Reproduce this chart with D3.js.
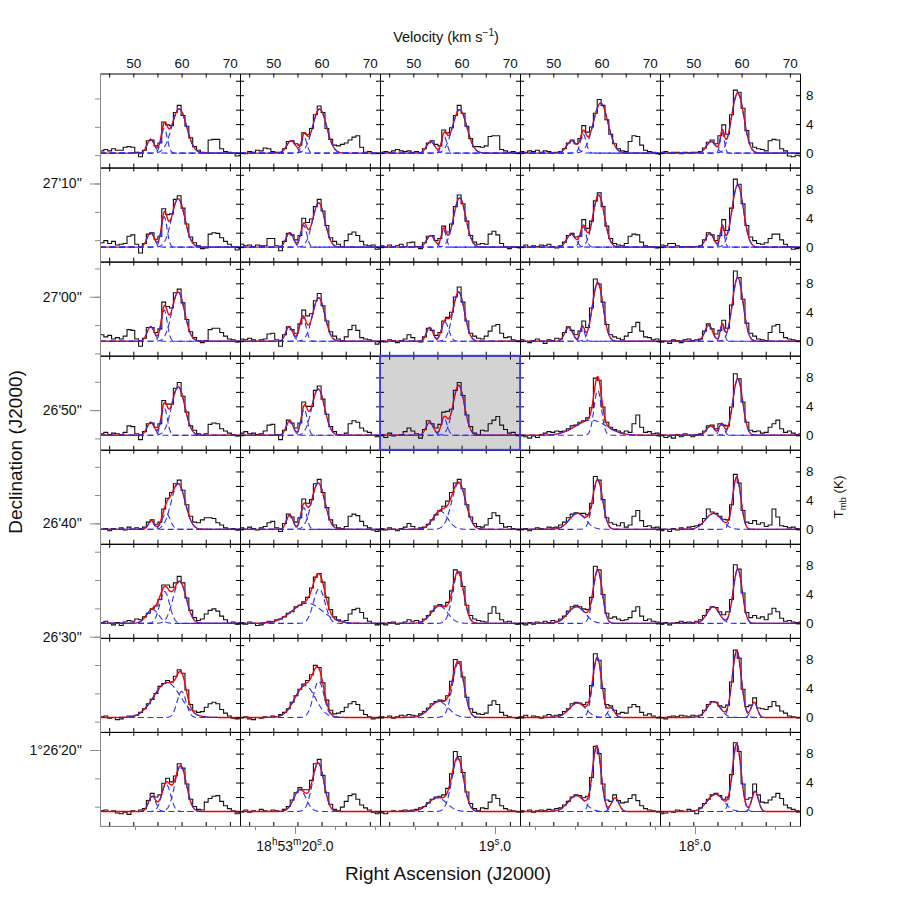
<!DOCTYPE html>
<html>
<head>
<meta charset="utf-8">
<title>Spectra grid</title>
<script src="https://cdn.jsdelivr.net/npm/d3@7/dist/d3.min.js"></script>
<style>
	body { margin: 0; background: #fff; }
	svg text { font-family: "Liberation Sans", Arial, Helvetica, sans-serif; fill: #111; }
</style>
</head>
<body>
<svg width="900" height="900" viewBox="0 0 900 900"></svg>
<script>
/* DATA */
// channel centres (km/s), 0.8 km/s wide
var channelV = [43.5, 44.3, 45.1, 45.9, 46.7, 47.5, 48.3, 49.1, 49.9, 50.7, 51.5, 52.3, 53.1, 53.9, 54.7, 55.5, 56.3, 57.1, 57.9, 58.7,
	59.5, 60.3, 61.1, 61.9, 62.7, 63.5, 64.3, 65.1, 65.9, 66.7, 67.5, 68.3, 69.1, 69.9, 70.7, 71.5, 72.3];
var chanWidth = 0.8;

var velTicks = [45, 50, 55, 60, 65, 70];
var velLabels = [50, 60, 70];
var tmbTicks = [0, 2, 4, 6, 8, 10];
var tmbLabels = [0, 4, 8];

var decSeconds = [70, 60, 50, 40, 30, 20];
var decLabels = ["27'10''", "27'00''", "26'50''", "26'40''", "26'30''", "1°26'20''"];
var raSeconds = [20, 19, 18];
var raLabels = [
	[["18", "h"], ["53", "m"], ["20", "s"], [".0", ""]],
	[["19", "s"], [".0", ""]],
	[["18", "s"], [".0", ""]]
];
var highlightPanel = [3, 2];

// T_mb (K) per channel, one array per panel, rows top to bottom
var spectra = [
	[
		[0.3,0.5,0.3,0.6,0.4,0.4,0.8,0.9,0.8,0.1,-0.5,0.4,1.7,1.8,1.0,1.4,4.3,3.9,3.8,5.6,6.6,5.2,3.7,2.1,0.9,0.4,0.1,0.0,1.8,1.9,1.9,0.6,0.2,0.1,0.0,-0.4,-0.3],
		[0.0,-0.1,0.2,0.1,0.4,0.3,0.7,0.6,0.2,0.1,0.1,0.6,1.6,1.7,1.3,1.1,2.8,2.6,3.4,5.3,6.5,5.6,3.4,1.9,1.1,1.0,1.2,1.4,1.8,2.2,2.4,0.8,0.1,0.2,-0.1,0.0,0.0],
		[0.1,0.2,0.1,0.3,0.5,0.3,0.2,0.3,0.1,0.2,0.0,0.6,1.4,1.7,1.2,1.0,3.2,2.8,3.5,5.2,6.6,5.5,3.7,2.0,0.9,0.9,0.8,1.0,2.3,2.4,2.4,0.5,0.3,0.1,0.2,0.0,0.1],
		[0.2,0.1,0.3,0.2,0.4,0.1,0.3,0.2,0.0,0.1,0.2,0.6,1.4,1.8,1.3,2.0,3.8,2.9,3.6,5.5,7.4,6.6,4.6,2.6,1.3,0.6,0.3,0.2,1.6,2.4,2.3,1.1,0.4,0.2,0.1,-0.1,-0.2],
		[0.1,0.2,0.0,0.1,0.1,-0.1,0.1,0.0,0.1,0.1,0.2,0.7,1.5,1.8,1.3,2.4,3.9,2.6,5.3,8.7,8.4,6.2,3.1,1.4,0.8,0.6,0.5,0.3,1.7,1.9,1.8,0.6,0.3,-0.4,-0.5,-0.3,-0.4]
	],
	[
		[0.6,0.9,0.5,0.8,0.3,0.4,0.5,1.5,1.7,0.4,-0.8,0.5,1.8,2.0,1.1,1.5,5.3,4.5,4.6,6.6,7.1,5.4,3.2,1.4,0.6,0.2,-0.2,-0.1,1.8,2.0,1.9,1.3,0.8,0.4,0.1,-0.4,-0.2],
		[0.4,0.2,0.3,0.1,0.3,0.2,0.2,1.2,1.2,0.2,-0.5,0.8,1.9,1.7,1.0,1.6,4.0,3.4,3.9,5.6,6.6,5.0,3.0,1.3,0.8,0.4,0.1,0.9,1.8,2.1,1.6,0.8,0.3,0.2,0.3,-0.3,-0.1],
		[0.2,0.0,0.3,0.1,0.2,0.4,0.1,0.6,0.7,0.1,-0.2,0.6,1.5,1.6,0.9,1.2,2.9,2.1,3.2,5.6,7.2,6.0,3.6,1.6,0.7,0.4,0.5,0.4,1.8,2.2,1.7,0.5,0.1,-0.2,0.1,0.0,-0.1],
		[0.1,0.3,0.0,0.2,0.1,0.3,0.2,0.4,0.1,-0.1,0.2,0.7,1.6,1.9,1.4,1.5,3.8,2.6,3.6,6.4,7.5,5.6,2.9,1.2,0.5,0.3,0.2,0.5,1.5,1.8,1.7,0.7,0.2,0.1,0.0,-0.1,0.0],
		[0.3,0.2,0.5,0.5,0.2,0.1,0.0,0.1,0.0,0.1,0.2,1.0,2.0,1.7,0.9,1.6,3.8,2.3,5.4,9.4,8.7,6.0,3.0,1.4,0.9,0.5,0.4,0.6,1.2,1.8,1.8,1.0,0.4,0.1,-0.3,-0.2,0.0]
	],
	[
		[0.9,0.6,0.8,0.3,0.5,0.3,0.7,1.6,1.5,0.3,-0.7,0.4,1.9,1.9,1.2,1.7,5.4,4.8,4.6,6.7,7.2,5.3,3.0,1.3,0.5,0.1,-0.2,0.1,1.6,1.8,1.8,1.2,0.7,0.3,0.2,-0.1,0.0],
		[0.3,0.2,0.4,0.2,0.0,0.2,0.3,1.0,1.1,0.2,-0.7,0.9,2.0,1.6,1.1,2.4,4.3,3.5,3.8,5.6,6.6,4.9,2.8,1.3,0.7,0.3,0.1,0.6,1.6,2.2,1.5,0.5,0.3,0.2,0.0,-0.4,-0.1],
		[0.0,-0.1,0.2,0.1,-0.2,0.1,0.3,0.9,0.5,0.0,-0.1,0.6,1.8,1.5,0.8,1.2,2.8,3.3,4.0,6.1,7.5,5.4,2.8,1.1,0.7,0.4,0.3,0.7,1.4,2.1,2.3,1.1,0.5,0.6,0.2,0.1,0.0],
		[0.2,0.0,-0.2,0.1,0.3,0.0,-0.3,0.2,0.1,0.4,0.3,1.2,2.0,1.5,0.9,1.4,2.8,1.9,4.6,8.6,7.9,5.4,2.3,0.9,0.6,0.4,0.2,0.7,1.2,2.0,2.6,1.4,0.6,0.5,0.2,0.3,-0.1],
		[-0.1,0.0,-0.3,0.2,0.1,-0.2,0.2,0.3,0.1,0.2,0.3,1.4,2.4,1.7,1.0,1.5,2.9,1.8,5.0,9.7,8.8,5.8,2.5,1.1,0.7,0.3,0.2,0.1,1.2,2.1,2.3,1.2,0.5,0.3,0.2,0.1,0.0]
	],
	[
		[0.2,0.4,0.1,0.3,0.2,0.1,0.4,1.3,1.2,0.2,-0.6,0.5,1.6,1.7,1.1,1.6,4.8,4.3,4.3,6.5,7.3,5.4,3.2,1.3,0.7,0.2,0.0,0.2,1.5,1.7,1.6,0.9,0.6,0.3,0.1,-0.1,0.0],
		[0.3,0.5,0.2,0.3,0.1,0.2,0.6,1.4,1.5,0.1,-0.6,0.7,2.1,1.7,1.0,1.7,4.6,4.0,4.0,6.2,6.8,5.0,2.9,1.2,0.5,0.1,0.0,0.3,1.6,2.0,1.8,1.0,0.6,0.4,0.0,-0.2,0.0],
		[0.1,-0.3,0.3,-0.1,0.0,0.1,0.5,1.0,0.6,0.2,-0.4,0.8,2.0,1.6,1.0,1.5,3.2,3.3,3.6,6.2,7.3,5.5,2.8,1.2,0.3,0.1,0.7,0.6,1.6,2.1,2.6,1.4,0.8,0.3,0.4,0.1,0.0],
		[0.0,-0.2,-0.4,-0.1,-0.3,0.1,0.3,0.5,0.4,0.6,0.5,0.6,0.9,1.3,1.4,1.8,2.0,2.4,3.8,7.9,7.6,3.9,1.8,1.1,0.8,0.6,0.3,0.6,0.4,1.6,2.8,1.1,0.4,0.5,0.2,0.3,-0.1],
		[0.0,-0.3,-0.2,-0.4,0.1,-0.2,0.2,0.0,-0.2,0.1,0.2,0.6,1.3,1.4,0.9,1.6,1.4,1.3,3.9,8.5,7.8,4.6,1.8,0.7,0.5,0.6,0.3,0.4,1.1,1.6,2.1,0.9,0.4,0.6,0.3,0.1,0.2]
	],
	[
		[0.0,0.1,-0.2,0.1,0.0,0.2,-0.1,0.3,0.0,0.2,0.1,0.3,1.0,1.3,0.7,1.0,2.8,4.3,5.1,6.3,6.8,5.4,3.4,1.8,1.0,0.9,1.3,1.6,1.6,1.5,0.9,0.6,0.2,0.0,0.1,-0.1,0.0],
		[0.2,0.0,0.3,0.1,-0.1,0.2,0.4,0.9,1.1,0.2,-0.3,0.8,2.1,1.7,1.0,1.6,4.2,3.6,4.1,6.3,6.9,5.1,3.0,1.3,0.6,0.2,0.1,0.4,1.8,2.1,1.9,1.1,0.5,0.2,-0.1,-0.3,0.0],
		[0.1,-0.1,0.2,0.0,-0.2,0.1,0.3,0.8,0.4,0.0,0.2,0.3,0.7,1.3,2.0,2.6,3.2,3.9,5.1,6.4,6.9,5.6,3.4,1.7,0.8,0.4,0.3,0.6,1.5,2.3,1.9,0.8,0.3,0.4,0.1,0.0,-0.1],
		[0.0,0.1,-0.2,0.0,0.2,0.1,0.0,0.3,0.2,0.3,0.6,1.0,1.6,2.1,2.3,2.2,2.2,2.0,3.6,7.3,6.8,4.1,1.6,0.9,0.7,0.5,0.9,0.3,0.6,1.8,2.6,1.2,0.4,0.5,0.2,0.3,0.1],
		[-0.2,0.0,-0.3,0.1,-0.1,0.2,0.0,0.3,0.4,0.5,0.7,1.5,2.8,2.4,2.2,1.8,1.4,1.3,3.4,7.6,6.4,2.6,1.0,0.8,1.2,0.7,0.9,0.4,0.6,2.8,1.7,0.5,0.4,0.2,0.3,0.1,0.0]
	],
	[
		[0.1,0.3,0.0,-0.2,0.1,-0.3,0.2,0.4,0.3,0.6,0.5,0.9,1.4,2.0,2.4,3.3,5.3,5.3,5.0,5.6,6.5,5.6,3.5,1.8,0.8,0.4,0.6,1.3,1.8,2.0,1.7,1.0,0.5,0.0,0.2,-0.1,0.1],
		[0.1,-0.1,0.2,0.0,-0.3,-0.2,0.1,0.3,0.2,0.5,0.6,0.9,1.4,1.6,2.3,2.5,3.0,3.6,4.9,6.4,6.9,5.7,3.6,1.9,0.9,0.5,0.3,0.4,1.3,1.9,2.1,1.5,0.7,0.3,0.0,-0.2,0.0],
		[0.0,-0.2,0.1,0.2,-0.1,0.0,0.2,0.5,0.3,0.4,0.2,0.6,1.1,1.7,2.4,2.6,2.4,2.9,4.5,7.4,7.1,5.1,2.5,1.1,0.6,0.4,0.3,0.2,1.4,2.3,1.4,0.5,0.2,0.3,0.0,-0.1,0.0],
		[0.0,-0.2,0.1,-0.1,0.2,0.0,0.3,0.1,0.4,0.3,0.6,1.0,1.7,2.3,2.5,2.3,2.0,1.9,3.6,7.9,7.4,4.0,1.4,0.7,0.9,0.6,0.4,0.5,0.8,1.7,2.3,1.0,0.4,0.6,0.3,0.2,0.0],
		[-0.1,0.1,-0.2,0.0,0.1,0.3,0.1,0.2,0.1,0.3,0.5,1.1,1.9,2.3,2.2,1.6,1.2,1.6,3.3,8.1,7.5,4.2,1.5,0.8,1.1,0.7,0.9,0.5,1.3,2.1,1.6,0.7,0.3,0.4,0.2,0.1,0.2]
	],
	[
		[0.1,0.2,-0.1,0.0,-0.3,-0.2,0.0,0.2,0.1,0.3,0.7,1.2,1.9,2.5,3.3,4.3,4.7,5.1,4.9,5.7,6.6,6.1,3.8,1.8,0.9,0.7,0.8,1.4,1.9,2.1,1.9,1.1,0.6,0.2,-0.1,-0.2,0.0],
		[0.0,0.1,-0.2,-0.3,0.0,-0.1,0.1,0.0,0.2,0.1,0.4,0.7,1.2,2.1,3.0,3.9,4.6,5.1,5.9,7.2,6.9,4.8,2.4,1.0,0.5,0.6,0.8,1.4,1.9,2.2,1.8,1.0,0.4,0.1,-0.2,0.0,0.1],
		[0.1,0.0,0.2,-0.1,0.1,0.3,0.2,0.4,0.3,0.2,0.5,0.8,1.3,1.9,2.2,2.4,2.3,3.0,5.0,8.0,7.7,5.6,2.8,1.2,0.7,0.5,0.4,0.6,1.7,2.3,1.8,0.7,0.3,0.1,0.0,-0.1,0.1],
		[0.1,0.3,0.0,0.2,0.1,-0.1,0.2,0.4,0.2,0.3,0.4,0.8,1.2,1.9,2.1,2.0,1.8,2.1,4.4,8.8,7.9,4.0,1.8,1.6,1.0,0.5,0.7,0.6,1.4,1.8,1.5,0.7,0.3,0.5,0.2,0.0,0.1],
		[0.0,-0.2,0.1,0.2,0.1,0.3,0.2,0.1,0.3,0.2,0.3,1.0,1.8,2.2,2.1,1.6,1.4,1.7,4.9,9.3,8.2,3.9,1.5,1.7,2.7,1.3,1.2,1.1,1.5,2.2,1.6,0.9,0.6,0.2,0.1,0.0,0.0]
	],
	[
		[0.1,0.2,0.0,0.1,-0.2,-0.3,-0.1,-0.4,0.1,0.0,0.2,0.4,1.5,2.5,2.0,2.3,3.9,4.6,4.1,4.9,6.6,6.0,3.8,1.7,0.7,0.3,0.2,1.3,1.8,2.1,2.2,1.4,0.8,0.4,0.1,-0.3,-0.2],
		[0.0,0.2,-0.1,0.1,0.0,0.3,0.1,0.0,0.2,0.1,0.0,0.3,0.7,1.6,2.6,3.3,3.0,3.0,4.3,6.6,7.2,5.0,2.6,1.0,0.3,0.1,0.6,1.4,2.2,2.4,1.7,0.9,0.5,0.2,-0.1,-0.3,0.0],
		[-0.2,-0.3,0.0,0.1,0.0,0.1,0.2,0.1,0.2,0.3,0.5,0.7,1.2,1.7,2.0,2.1,2.3,3.2,5.2,8.3,7.6,5.4,2.7,1.1,0.4,0.1,0.5,0.4,1.3,2.3,1.8,0.8,0.4,0.2,0.1,0.0,0.0],
		[0.1,0.0,0.2,-0.1,0.1,0.2,0.1,0.3,0.2,0.4,0.5,0.9,1.4,2.0,2.3,2.2,1.9,2.1,4.7,9.0,8.0,3.8,1.6,1.4,2.3,1.5,1.2,1.3,1.8,2.3,1.5,0.8,0.4,0.2,0.1,0.0,0.0],
		[-0.3,-0.2,0.0,-0.1,0.2,0.1,0.0,0.3,0.1,-0.3,0.5,1.1,1.7,2.3,2.5,2.2,1.7,2.0,5.1,9.5,8.3,3.8,1.7,1.9,3.8,2.3,1.3,1.2,1.6,2.0,2.5,1.8,0.9,0.5,0.3,0.1,0.0]
	]
];

// fitted gaussian components per panel: [peak (K), centre (km/s), FWHM (km/s)]
var gaussFits = [
	[
		[[6.1,59.5,3.6],[3.4,56.4,1.5],[1.9,53.6,1.8]],
		[[6.1,59.6,3.4],[2.2,56.4,1.3],[1.7,53.7,2.2]],
		[[6.0,59.6,3.5],[2.3,56.4,1.3],[1.6,53.6,2.0]],
		[[6.9,59.8,3.6],[2.6,56.2,1.4],[1.7,53.8,2.4]],
		[[8.3,59.2,3.0],[2.8,56.0,1.0],[1.6,53.7,2.3]]
	],
	[
		[[6.7,59.3,3.2],[4.2,56.4,1.4],[2.0,53.6,1.8]],
		[[6.1,59.4,3.0],[3.0,56.3,1.5],[2.0,53.4,1.8]],
		[[6.8,59.6,3.0],[2.4,56.3,1.2],[1.6,53.6,2.0]],
		[[7.2,59.4,2.8],[2.8,56.2,1.4],[1.8,53.7,2.2]],
		[[8.6,59.2,2.8],[2.8,56.0,1.0],[1.9,53.4,2.0]]
	],
	[
		[[6.8,59.3,3.1],[4.3,56.4,1.5],[2.0,53.6,1.8]],
		[[6.0,59.4,3.0],[3.3,56.1,1.6],[2.0,53.3,1.7]],
		[[6.8,59.4,2.8],[2.6,56.6,1.8],[1.9,53.4,1.6]],
		[[8.1,59.2,2.6],[2.0,56.0,1.1],[1.9,53.2,1.9]],
		[[8.8,59.2,2.6],[2.3,56.0,1.0],[2.2,53.2,1.9]]
	],
	[
		[[6.7,59.3,3.2],[3.8,56.4,1.5],[1.8,53.6,1.8]],
		[[6.4,59.3,3.1],[3.6,56.4,1.5],[2.0,53.4,1.7]],
		[[6.9,59.4,2.8],[2.3,56.4,1.5],[1.8,53.4,1.8]],
		[[6.2,59.2,1.8],[2.1,57.8,7.5]],
		[[7.8,59.2,2.4],[1.6,55.9,1.2],[1.3,53.6,2.0]]
	],
	[
		[[6.3,59.3,3.4],[2.2,56.8,2.0],[1.2,53.7,1.4]],
		[[6.4,59.3,3.2],[3.0,56.3,1.5],[2.0,53.4,1.6]],
		[[6.4,59.4,3.4],[2.5,55.6,3.6]],
		[[6.8,59.2,2.4],[2.2,55.0,4.0]],
		[[7.2,59.0,2.0],[2.2,54.2,4.0]]
	],
	[
		[[5.8,59.6,3.2],[4.4,56.5,2.4],[1.9,54.0,3.0]],
		[[4.8,59.5,2.8],[2.8,57.0,7.5]],
		[[7.0,59.3,2.7],[2.4,55.4,4.0]],
		[[7.3,59.2,2.2],[2.3,54.8,4.2]],
		[[7.5,59.2,2.2],[2.3,54.1,3.0]]
	],
	[
		[[3.6,60.0,2.2],[4.8,57.0,6.5]],
		[[5.0,59.4,2.6],[4.4,56.6,5.0]],
		[[7.5,59.3,2.8],[2.2,55.3,4.5]],
		[[8.2,59.1,2.2],[2.0,55.0,4.0],[1.3,62.0,1.6]],
		[[9.2,59.0,2.2],[2.2,54.2,3.2],[2.1,62.6,1.5]]
	],
	[
		[[6.3,59.8,2.8],[3.8,56.8,2.2],[2.1,53.9,1.8]],
		[[6.7,59.3,2.8],[3.0,55.5,3.0]],
		[[7.3,59.2,2.9],[1.9,55.0,4.5]],
		[[9.0,59.0,2.1],[2.2,54.8,4.0],[1.9,62.8,1.8]],
		[[9.3,59.0,2.1],[2.4,54.6,4.0],[2.8,62.8,1.6]]
	]
];

/* SVG */
var svg = d3.select("svg");
var gridLeft = 100, gridTop = 73.5, panelW = 140, panelH = 94.06;
var nRows = spectra.length, nCols = spectra[0].length;

/* SCALES */
var x = d3.scaleLinear().domain([43.1, 72.1]).range([0, panelW]);
var y = d3.scaleLinear().domain([-2, 11]).range([panelH, 0]);
// declination in arcsec past 1°26', RA in seconds past 18h53m
var decY = d3.scaleLinear().domain([79.706, 13.294]).range([gridTop, gridTop + nRows * panelH]);
var raX = d3.scaleLinear().domain([20.975, 17.475]).range([gridLeft, gridLeft + nCols * panelW]);

var fineV = d3.range(43.1, 72.15, 0.1);
function gauss(g, v) {
	return g[0] * Math.exp(-4 * Math.LN2 * Math.pow((v - g[1]) / g[2], 2));
}
function stepPoints(vals) {
	var pts = [];
	vals.forEach(function (t, k) {
		pts.push([channelV[k] - chanWidth / 2, t]);
		pts.push([channelV[k] + chanWidth / 2, t]);
	});
	return pts;
}
var line = d3.line()
	.x(function (d) { return x(d[0]); })
	.y(function (d) { return y(d[1]); });

svg.append("rect").attr("width", 900).attr("height", 900).attr("fill", "#fff");
svg.append("defs").append("clipPath").attr("id", "panelClip")
	.append("rect").attr("width", panelW).attr("height", panelH);

/* PANELS */
var panels = [];
spectra.forEach(function (row, r) {
	row.forEach(function (spec, c) {
		panels.push({ r: r, c: c, spec: spec, fit: gaussFits[r][c] });
	});
});

var node = svg.append("g")
	.selectAll("g")
	.data(panels)
	.enter()
	.append("g")
	.attr("transform", function (d) {
		return `translate(${gridLeft + d.c * panelW}, ${gridTop + d.r * panelH})`;
	});

node.filter(function (d) { return d.r == highlightPanel[0] && d.c == highlightPanel[1]; })
	.append("rect")
	.attr("width", panelW)
	.attr("height", panelH)
	.attr("fill", "#d3d3d3");

var plot = node.append("g").attr("clip-path", "url(#panelClip)");

// observed spectrum
plot.append("path")
	.attr("d", function (d) { return line(stepPoints(d.spec)); })
	.attr("fill", "none")
	.attr("stroke", "#111")
	.attr("stroke-width", 1.1);

// total fit
plot.append("path")
	.attr("d", function (d) {
		return line(fineV.map(function (v) {
			return [v, d3.sum(d.fit, function (g) { return gauss(g, v); })];
		}));
	})
	.attr("fill", "none")
	.attr("stroke", "#ff0000")
	.attr("stroke-width", 1.4);

// single components
plot.selectAll("path.comp")
	.data(function (d) { return d.fit; })
	.enter()
	.append("path")
	.attr("class", "comp")
	.attr("d", function (g) {
		return line(fineV.map(function (v) { return [v, gauss(g, v)]; }));
	})
	.attr("fill", "none")
	.attr("stroke", "#2a2aff")
	.attr("stroke-width", 1.1)
	.attr("stroke-dasharray", "6,3.5");

// frames and inward ticks
node.each(function (d) {
	var g = d3.select(this);
	g.append("g")
		.call(d3.axisTop(x).tickValues(velTicks).tickSizeInner(-4).tickSizeOuter(0).tickFormat(""));
	g.append("g")
		.attr("transform", `translate(0, ${panelH})`)
		.call(d3.axisBottom(x).tickValues(velTicks).tickSizeInner(-4).tickSizeOuter(0).tickFormat(""));
	if (d.c > 0) {
		g.append("g")
			.call(d3.axisLeft(y).tickValues(tmbTicks).tickSizeInner(-4).tickSizeOuter(0).tickFormat(""));
	}
	g.append("g")
		.attr("transform", `translate(${panelW}, 0)`)
		.call(d3.axisRight(y).tickValues(tmbTicks).tickSizeInner(-4).tickSizeOuter(0).tickFormat(""));
});

svg.append("rect")
	.attr("x", gridLeft + highlightPanel[1] * panelW)
	.attr("y", gridTop + highlightPanel[0] * panelH)
	.attr("width", panelW)
	.attr("height", panelH)
	.attr("fill", "none")
	.attr("stroke", "#4040ff")
	.attr("stroke-width", 1.8);

/* VELOCITY AND T_MB LABELS */
d3.range(nCols).forEach(function (c) {
	var a = svg.append("g")
		.attr("transform", `translate(${gridLeft + c * panelW}, ${gridTop})`)
		.call(d3.axisTop(x).tickValues(velLabels).tickSize(0).tickPadding(6));
	a.select(".domain").remove();
	a.attr("font-size", 13.5).attr("font-family", null);
});
d3.range(nRows).forEach(function (r) {
	var a = svg.append("g")
		.attr("transform", `translate(${gridLeft + nCols * panelW}, ${gridTop + r * panelH})`)
		.call(d3.axisRight(y).tickValues(tmbLabels).tickSize(0).tickPadding(6));
	a.select(".domain").remove();
	a.attr("font-size", 13.5).attr("font-family", null);
});

/* DECLINATION AXIS */
var decMinor = d3.range(15, 78, 2.5);
var decAxis = svg.append("g")
	.attr("transform", `translate(${gridLeft}, 0)`)
	.attr("color", "#8a8a8a");
decAxis.append("g")
	.call(d3.axisLeft(decY).tickValues(decMinor).tickSize(5).tickSizeOuter(0).tickFormat(""));
var decMajor = decAxis.append("g")
	.call(d3.axisLeft(decY).tickValues(decSeconds).tickSize(10).tickSizeOuter(0).tickPadding(8)
		.tickFormat(function (d, i) { return decLabels[i]; }));
decMajor.select(".domain").remove();
decMajor.attr("font-size", 14).attr("font-family", null);
decMajor.selectAll("text").attr("fill", "#222");

/* RIGHT ASCENSION AXIS */
var raMinor = d3.range(17.6, 20.85, 0.2);
var raAxis = svg.append("g")
	.attr("transform", `translate(0, ${gridTop + nRows * panelH})`)
	.attr("color", "#8a8a8a");
raAxis.append("g")
	.call(d3.axisBottom(raX).tickValues(raMinor).tickSize(4).tickSizeOuter(0).tickFormat(""));
raAxis.append("g")
	.call(d3.axisBottom(raX).tickValues(raSeconds).tickSize(8).tickSizeOuter(0).tickFormat(""))
	.select(".domain").remove();

raSeconds.forEach(function (s, i) {
	var t = svg.append("text")
		.attr("x", raX(s))
		.attr("y", 851)
		.attr("text-anchor", "middle")
		.attr("font-size", 14)
		.attr("fill", "#222");
	var raised = false;
	raLabels[i].forEach(function (p) {
		t.append("tspan").attr("dy", raised ? 6 : 0).text(p[0]);
		raised = false;
		if (p[1]) {
			t.append("tspan").attr("dy", -6).attr("font-size", 10).text(p[1]);
			raised = true;
		}
	});
});

/* TITLES */
svg.append("text")
	.attr("x", 448)
	.attr("y", 880)
	.attr("text-anchor", "middle")
	.attr("font-size", 19)
	.text("Right Ascension (J2000)");

svg.append("text")
	.attr("transform", "translate(22, 452) rotate(-90)")
	.attr("text-anchor", "middle")
	.attr("font-size", 19)
	.text("Declination (J2000)");

var vt = svg.append("text")
	.attr("x", 446)
	.attr("y", 42)
	.attr("text-anchor", "middle")
	.attr("font-size", 14.5);
vt.append("tspan").text("Velocity (km s");
vt.append("tspan").attr("dy", -6).attr("font-size", 10).text("\u22121");
vt.append("tspan").attr("dy", 6).text(")");

var tt = svg.append("text")
	.attr("transform", "translate(843, 497) rotate(-90)")
	.attr("text-anchor", "middle")
	.attr("font-size", 13.5);
tt.append("tspan").text("T");
tt.append("tspan").attr("dy", 3).attr("font-size", 9.5).text("mb");
tt.append("tspan").attr("dy", -3).text(" (K)");
</script>
</body>
</html>
